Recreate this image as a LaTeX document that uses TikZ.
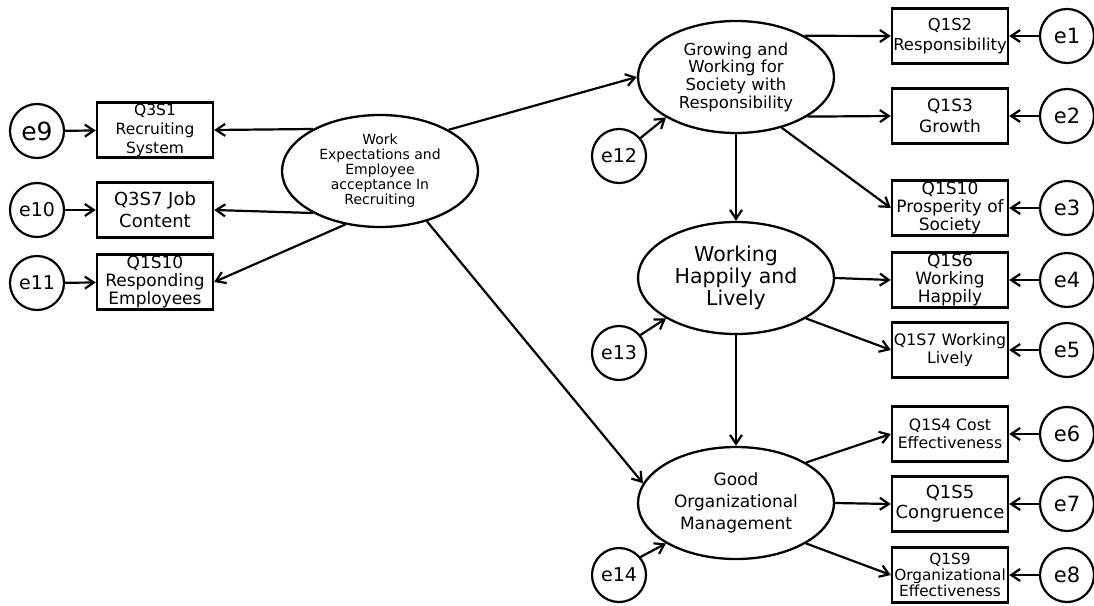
\documentclass[tikz,border=0pt]{standalone}
\usepackage{fontspec}
\setmainfont{DejaVu Sans}
\usetikzlibrary{arrows.meta,shapes.geometric}
\newcommand\txtsize[2]{\fontsize{#1}{#2}\selectfont}
\begin{document}
\begin{tikzpicture}[x=1pt,y=-1pt,
  every node/.style={inner sep=0pt, align=center},
  latent/.style={draw, line width=2.3pt, ellipse, minimum width=196pt, minimum height=112pt},
  item/.style={draw, line width=2.4pt, rectangle, minimum width=116pt, minimum height=55pt},
  err/.style={draw, line width=2.2pt, circle, minimum size=54pt, font=\txtsize{21}{24}},
  path/.style={line width=2.2pt, -{Straight Barb[length=9pt,width=12pt]}}
]
\useasboundingbox (0,0) rectangle (1094,605);

% latent variables
\node[latent, font=\txtsize{14}{15}] (work) at (380,171)
  {Work\\Expectations and\\Employee\\acceptance In\\Recruiting};
\node[latent, font=\txtsize{16.5}{17.7}] (grow) at (736,77)
  {Growing and\\Working for\\Society with\\Responsibility};
\node[latent, font=\txtsize{20.5}{22}] (happy) at (736,278)
  {Working\\Happily and\\Lively};
\node[latent, font=\txtsize{17}{21.7}] (manage) at (736,503)
  {Good\\Organizational\\Management};

% observed items, left
\node[item, font=\txtsize{15.5}{19}] (q3s1) at (155,130) {Q3S1\\Recruiting\\System};
\node[item, font=\txtsize{18}{22}] (q3s7) at (155,210) {Q3S7 Job\\Content};
\node[item, font=\txtsize{17}{18}] (q1s10a) at (155,282) {Q1S10\\Responding\\Employees};

% observed items, right
\node[item, font=\txtsize{16.4}{20}] (q1s2) at (950,36) {Q1S2\\Responsibility};
\node[item, font=\txtsize{17}{21.5}] (q1s3) at (950,116) {Q1S3\\Growth};
\node[item, font=\txtsize{17}{18.3}] (q1s10b) at (950,208) {Q1S10\\Prosperity of\\Society};
\node[item, font=\txtsize{17}{18.3}] (q1s6) at (950,280) {Q1S6\\Working\\Happily};
\node[item, font=\txtsize{15.8}{18.3}] (q1s7) at (950,350) {Q1S7 Working\\Lively};
\node[item, font=\txtsize{15.7}{18.3}] (q1s4) at (950,434) {Q1S4 Cost\\Effectiveness};
\node[item, font=\txtsize{18}{20}] (q1s5) at (950,504) {Q1S5\\Congruence};
\node[item, font=\txtsize{15.3}{16}] (q1s9) at (950,575) {Q1S9\\Organizational\\Effectiveness};

% error terms
\node[err] (e1) at (1067,36) {e1};
\node[err] (e2) at (1067,116) {e2};
\node[err] (e3) at (1067,208) {e3};
\node[err] (e4) at (1067,280) {e4};
\node[err] (e5) at (1067,350) {e5};
\node[err] (e6) at (1067,434) {e6};
\node[err] (e7) at (1067,504) {e7};
\node[err] (e8) at (1067,575) {e8};
\node[err, font=\txtsize{25}{28}] (e9) at (37,131) {e9};
\node[err, font=\txtsize{19}{22}] (e10) at (37,210) {e10};
\node[err, font=\txtsize{19}{22}] (e11) at (37,283) {e11};
\node[err, font=\txtsize{19}{22}] (e12) at (619,156) {e12};
\node[err, font=\txtsize{19}{22}] (e13) at (619,353) {e13};
\node[err, font=\txtsize{19}{22}] (e14) at (619,575) {e14};

% structural paths
\draw[path] (work.31) -- (grow.180);
\draw[path] (work.-47) -- (manage.168);
\draw[path] (grow.south) -- (happy.north);
\draw[path] (happy.south) -- (manage.north);

% loadings, left
\draw[path] (work.148.5) -- (q3s1.east);
\draw[path] (work.-148.5) -- (q3s7.east);
\draw[path] (work.-123) -- (q1s10a.east);

% loadings, right
\draw[path] (grow.31.5) -- (q1s2.west);
\draw[path] (grow.-29) -- (q1s3.west);
\draw[path] (grow.-48) -- (q1s10b.west);
\draw[path] (happy.east) -- (q1s6.west);
\draw[path] (happy.-30) -- (q1s7.west);
\draw[path] (manage.30) -- (q1s4.west);
\draw[path] (manage.east) -- (q1s5.west);
\draw[path] (manage.-30) -- (q1s9.west);

% residuals
\draw[path] (e1) -- (q1s2);
\draw[path] (e2) -- (q1s3);
\draw[path] (e3) -- (q1s10b);
\draw[path] (e4) -- (q1s6);
\draw[path] (e5) -- (q1s7);
\draw[path] (e6) -- (q1s4);
\draw[path] (e7) -- (q1s5);
\draw[path] (e8) -- (q1s9);
\draw[path] (e9) -- (q3s1);
\draw[path] (e10) -- (q3s7);
\draw[path] (e11) -- (q1s10a);
\draw[path] (e12.40) -- (grow.-150);
\draw[path] (e13.40) -- (happy.-150);
\draw[path] (e14.40) -- (manage.-150);
\end{tikzpicture}
\end{document}
